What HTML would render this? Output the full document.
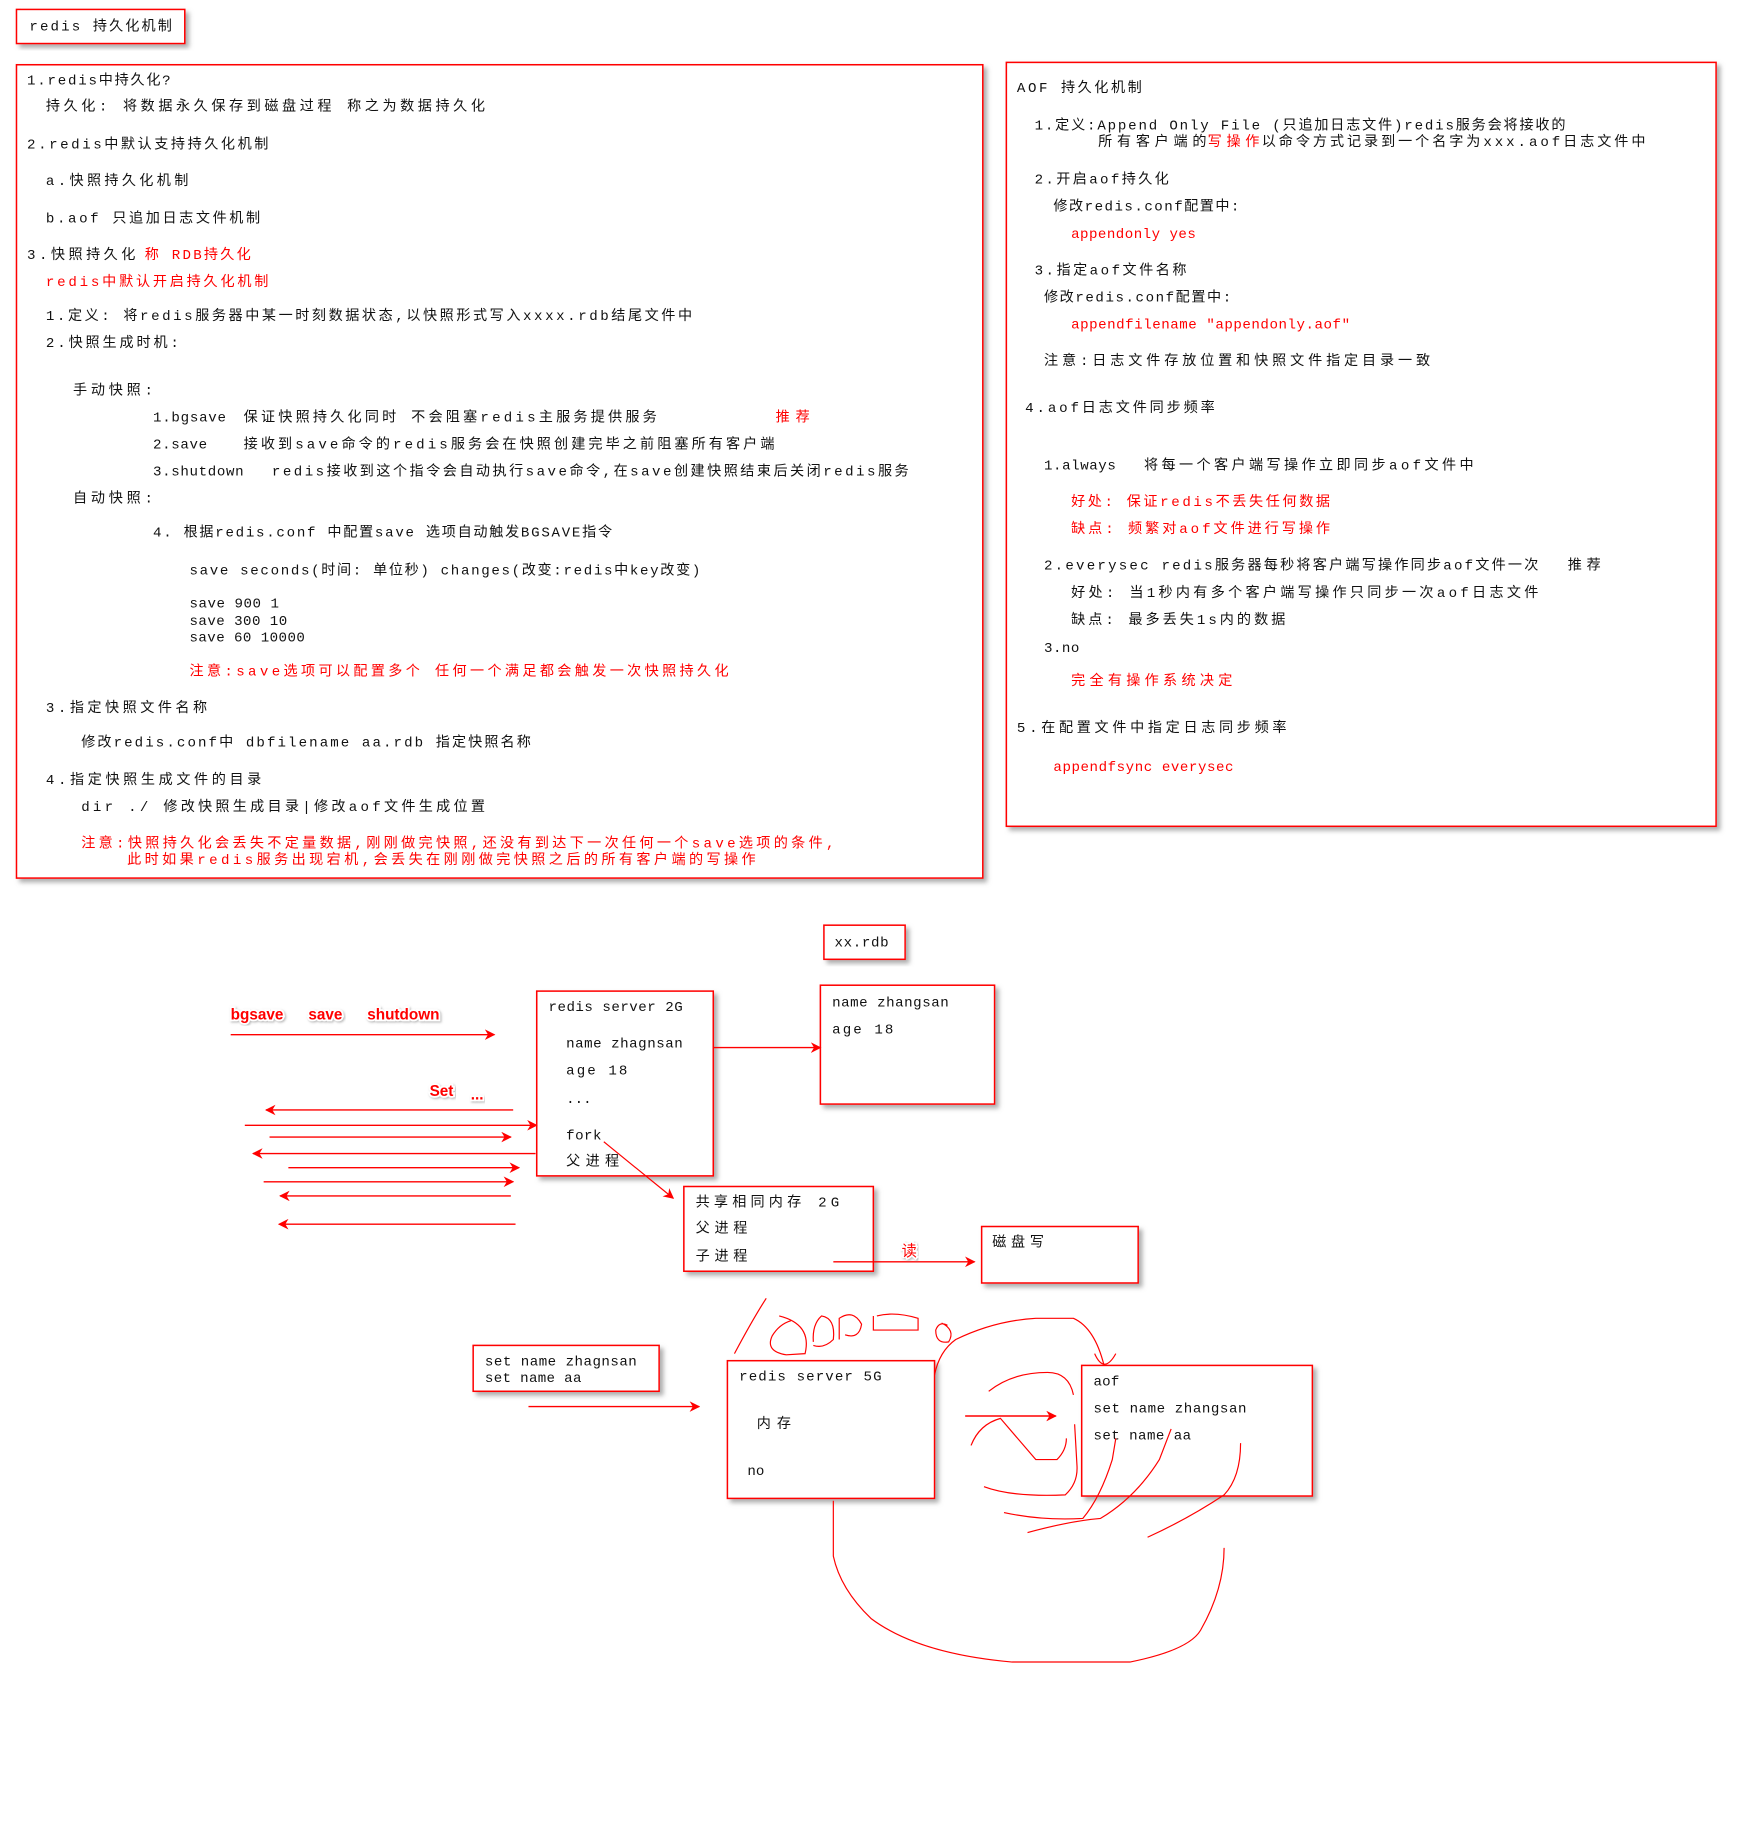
<!DOCTYPE html>
<html><head><meta charset="utf-8"><style>
html,body{margin:0;padding:0;background:#fff;}
svg{display:block;}
text{font-family:"Liberation Mono","Noto Sans CJK SC",monospace;font-size:12px;fill:#111;}
.r{fill:#f00;}
.b{fill:none;stroke:#f00;stroke-width:1.3;}
.box{fill:#fff;stroke:#f00;stroke-width:1.3;filter:url(#sh);}
.ln{stroke:#f00;stroke-width:1.2;fill:none;}
.sc{stroke:#f00;stroke-width:1;fill:none;}
.lab{font-family:"Liberation Sans","Noto Sans CJK SC",sans-serif;font-weight:bold;font-size:13px;fill:#f00;stroke:#fff;stroke-width:3;paint-order:stroke;filter:url(#gl);}
</style></head><body>
<svg width="1762" height="1844" viewBox="0 0 1497 1566.6" preserveAspectRatio="none" xmlns="http://www.w3.org/2000/svg">
<defs>
<filter id="sh" x="-10%" y="-10%" width="130%" height="130%"><feDropShadow dx="3" dy="3" stdDeviation="2" flood-color="#777" flood-opacity="0.6"/></filter>
<filter id="gl"><feDropShadow dx="1" dy="1" stdDeviation="1" flood-color="#888" flood-opacity="0.6"/></filter>
<marker id="a" viewBox="0 0 10 10" refX="9" refY="5" markerWidth="9" markerHeight="9" orient="auto-start-reverse" markerUnits="userSpaceOnUse"><path d="M0,0 L10,5 L0,10 L3,5 z" fill="#f00"/></marker>
</defs>

<!-- title -->
<rect class="box" x="14" y="8" width="143" height="29"/>
<text x="25" y="26" textLength="121" lengthAdjust="spacing">redis 持久化机制</text>

<!-- main box -->
<rect class="box" x="14" y="55" width="821" height="691"/>
<text x="23" y="72" textLength="122" lengthAdjust="spacing">1.redis中持久化?</text>
<text x="39" y="94" textLength="373" lengthAdjust="spacing">持久化: 将数据永久保存到磁盘过程 称之为数据持久化</text>
<text x="23" y="126" textLength="205" lengthAdjust="spacing">2.redis中默认支持持久化机制</text>
<text x="39" y="157" textLength="121" lengthAdjust="spacing">a.快照持久化机制</text>
<text x="39" y="189" textLength="182" lengthAdjust="spacing">b.aof 只追加日志文件机制</text>
<text x="23" y="220" textLength="92" lengthAdjust="spacing">3.快照持久化</text>
<text class="r" x="123" y="220" textLength="90" lengthAdjust="spacing">称 RDB持久化</text>
<text class="r" x="39" y="243" textLength="189" lengthAdjust="spacing">redis中默认开启持久化机制</text>
<text x="39" y="272" textLength="549" lengthAdjust="spacing">1.定义: 将redis服务器中某一时刻数据状态,以快照形式写入xxxx.rdb结尾文件中</text>
<text x="39" y="295" textLength="113" lengthAdjust="spacing">2.快照生成时机:</text>
<text x="62" y="335" textLength="68" lengthAdjust="spacing">手动快照:</text>
<text x="130" y="358" textLength="62" lengthAdjust="spacing">1.bgsave</text>
<text x="207" y="358" textLength="351" lengthAdjust="spacing">保证快照持久化同时 不会阻塞redis主服务提供服务</text>
<text class="r" x="659" y="358" textLength="29" lengthAdjust="spacing">推荐</text>
<text x="130" y="381" textLength="46" lengthAdjust="spacing">2.save</text>
<text x="207" y="381" textLength="451" lengthAdjust="spacing">接收到save命令的redis服务会在快照创建完毕之前阻塞所有客户端</text>
<text x="130" y="404" textLength="77" lengthAdjust="spacing">3.shutdown</text>
<text x="231" y="404" textLength="541" lengthAdjust="spacing">redis接收到这个指令会自动执行save命令,在save创建快照结束后关闭redis服务</text>
<text x="62" y="427" textLength="68" lengthAdjust="spacing">自动快照:</text>
<text x="130" y="456" textLength="390" lengthAdjust="spacing">4. 根据redis.conf 中配置save 选项自动触发BGSAVE指令</text>
<text x="161" y="488" textLength="434" lengthAdjust="spacing">save  seconds(时间: 单位秒)  changes(改变:redis中key改变)</text>
<text x="161" y="516" textLength="76" lengthAdjust="spacing">save 900 1</text>
<text x="161" y="531" textLength="83" lengthAdjust="spacing">save 300 10</text>
<text x="161" y="545" textLength="98" lengthAdjust="spacing">save 60 10000</text>
<text class="r" x="161" y="574" textLength="458" lengthAdjust="spacing">注意:save选项可以配置多个 任何一个满足都会触发一次快照持久化</text>
<text x="39" y="605" textLength="137" lengthAdjust="spacing">3.指定快照文件名称</text>
<text x="69" y="634" textLength="382" lengthAdjust="spacing">修改redis.conf中  dbfilename aa.rdb   指定快照名称</text>
<text x="39" y="666" textLength="183" lengthAdjust="spacing">4.指定快照生成文件的目录</text>
<text x="69" y="689" textLength="343" lengthAdjust="spacing">dir ./   修改快照生成目录|修改aof文件生成位置</text>
<text class="r" x="69" y="720" textLength="640" lengthAdjust="spacing">注意:快照持久化会丢失不定量数据,刚刚做完快照,还没有到达下一次任何一个save选项的条件,</text>
<text class="r" x="108" y="734" textLength="534" lengthAdjust="spacing">此时如果redis服务出现宕机,会丢失在刚刚做完快照之后的所有客户端的写操作</text>

<!-- right box -->
<rect class="box" x="855" y="53" width="603" height="649"/>
<text x="864" y="78" textLength="106" lengthAdjust="spacing">AOF 持久化机制</text>
<text x="879" y="110" textLength="451" lengthAdjust="spacing">1.定义:Append Only File (只追加日志文件)redis服务会将接收的</text>
<text x="933" y="124" textLength="92" lengthAdjust="spacing">所有客户端的</text>
<text class="r" x="1026" y="124" textLength="44" lengthAdjust="spacing">写操作</text>
<text x="1072" y="124" textLength="326" lengthAdjust="spacing">以命令方式记录到一个名字为xxx.aof日志文件中</text>
<text x="879" y="156" textLength="114" lengthAdjust="spacing">2.开启aof持久化</text>
<text x="895" y="179" textLength="158" lengthAdjust="spacing">修改redis.conf配置中:</text>
<text class="r" x="910" y="202" textLength="106" lengthAdjust="spacing">appendonly yes</text>
<text x="879" y="233" textLength="129" lengthAdjust="spacing">3.指定aof文件名称</text>
<text x="887" y="256" textLength="159" lengthAdjust="spacing">修改redis.conf配置中:</text>
<text class="r" x="910" y="279" textLength="237" lengthAdjust="spacing">appendfilename "appendonly.aof"</text>
<text x="887" y="310" textLength="328" lengthAdjust="spacing">注意:日志文件存放位置和快照文件指定目录一致</text>
<text x="871" y="350" textLength="161" lengthAdjust="spacing">4.aof日志文件同步频率</text>
<text x="887" y="399" textLength="61" lengthAdjust="spacing">1.always</text>
<text x="972" y="399" textLength="280" lengthAdjust="spacing">将每一个客户端写操作立即同步aof文件中</text>
<text class="r" x="910" y="430" textLength="220" lengthAdjust="spacing">好处: 保证redis不丢失任何数据</text>
<text class="r" x="910" y="453" textLength="220" lengthAdjust="spacing">缺点: 频繁对aof文件进行写操作</text>
<text x="887" y="484" textLength="420" lengthAdjust="spacing">2.everysec redis服务器每秒将客户端写操作同步aof文件一次</text>
<text x="1332" y="484" textLength="28" lengthAdjust="spacing">推荐</text>
<text x="910" y="507" textLength="397" lengthAdjust="spacing">好处: 当1秒内有多个客户端写操作只同步一次aof日志文件</text>
<text x="910" y="530" textLength="182" lengthAdjust="spacing">缺点: 最多丢失1s内的数据</text>
<text x="887" y="554" textLength="30" lengthAdjust="spacing">3.no</text>
<text class="r" x="910" y="582" textLength="137" lengthAdjust="spacing">完全有操作系统决定</text>
<text x="864" y="622" textLength="229" lengthAdjust="spacing">5.在配置文件中指定日志同步频率</text>
<text class="r" x="895" y="655" textLength="153" lengthAdjust="spacing">appendfsync everysec</text>

<!-- RDB diagram -->
<rect class="box" x="700" y="786" width="69" height="29"/>
<text x="709" y="804" textLength="46" lengthAdjust="spacing">xx.rdb</text>
<rect class="box" x="697" y="837" width="148" height="101"/>
<text x="707" y="855" textLength="99" lengthAdjust="spacing">name zhangsan</text>
<text x="707" y="878" textLength="52" lengthAdjust="spacing">age  18</text>
<rect class="box" x="456" y="842" width="150" height="157"/>
<text x="466" y="859" textLength="114" lengthAdjust="spacing">redis server 2G</text>
<text x="481" y="890" textLength="99" lengthAdjust="spacing">name zhagnsan</text>
<text x="481" y="913" textLength="52" lengthAdjust="spacing">age  18</text>
<text x="481" y="937">...</text>
<text x="481" y="968" textLength="30" lengthAdjust="spacing">fork</text>
<text x="481" y="990" textLength="45" lengthAdjust="spacing">父进程</text>
<line class="ln" x1="606" y1="890" x2="697" y2="890" marker-end="url(#a)"/>
<line class="sc" x1="513" y1="970" x2="572" y2="1018" marker-end="url(#a)"/>

<text class="lab" x="196" y="866">bgsave</text>
<text class="lab" x="262" y="866">save</text>
<text class="lab" x="312" y="866">shutdown</text>
<line class="ln" x1="196" y1="879" x2="420" y2="879" marker-end="url(#a)"/>
<text class="lab" x="365" y="931">Set</text>
<text class="lab" x="400" y="934">...</text>
<line class="ln" x1="436" y1="943" x2="226" y2="943" marker-end="url(#a)"/>
<line class="ln" x1="208" y1="956" x2="456" y2="956" marker-end="url(#a)"/>
<line class="ln" x1="229" y1="966" x2="434" y2="966" marker-end="url(#a)"/>
<line class="ln" x1="455" y1="980" x2="215" y2="980" marker-end="url(#a)"/>
<line class="ln" x1="245" y1="992" x2="441" y2="992" marker-end="url(#a)"/>
<line class="ln" x1="224" y1="1004" x2="436" y2="1004" marker-end="url(#a)"/>
<line class="ln" x1="434" y1="1016" x2="238" y2="1016" marker-end="url(#a)"/>
<line class="ln" x1="438" y1="1040" x2="237" y2="1040" marker-end="url(#a)"/>

<rect class="box" x="581" y="1008" width="161" height="72"/>
<text x="591" y="1025" textLength="122" lengthAdjust="spacing">共享相同内存   2G</text>
<text x="591" y="1047" textLength="44" lengthAdjust="spacing">父进程</text>
<text x="591" y="1071" textLength="44" lengthAdjust="spacing">子进程</text>
<line class="ln" x1="708" y1="1072" x2="828" y2="1072" marker-end="url(#a)"/>
<text class="lab" x="766" y="1067" style="font-weight:normal">读</text>
<rect class="box" x="834" y="1042" width="133" height="48"/>
<text x="843" y="1059" textLength="44" lengthAdjust="spacing">磁盘写</text>

<!-- AOF diagram -->
<rect class="box" x="402" y="1143" width="158" height="39"/>
<text x="412" y="1160" textLength="129" lengthAdjust="spacing">set name zhagnsan</text>
<text x="412" y="1174" textLength="82" lengthAdjust="spacing">set name aa</text>
<line class="ln" x1="449" y1="1195" x2="594" y2="1195" marker-end="url(#a)"/>
<rect class="box" x="618" y="1156" width="176" height="117"/>
<text x="628" y="1173" textLength="121" lengthAdjust="spacing">redis server   5G</text>
<text x="643" y="1213" textLength="29" lengthAdjust="spacing">内存</text>
<text x="635" y="1253">no</text>
<line class="ln" x1="820" y1="1203" x2="897" y2="1203" marker-end="url(#a)"/>
<rect class="box" x="919" y="1160" width="196" height="111"/>
<text x="929" y="1177" textLength="22" lengthAdjust="spacing">aof</text>
<text x="929" y="1200" textLength="130" lengthAdjust="spacing">set name zhangsan</text>
<text x="929" y="1223" textLength="83" lengthAdjust="spacing">set name aa</text>

<!-- scribbles -->
<path class="sc" d="M708,1275 L708,1322 Q714,1350 740,1375 Q780,1405 860,1412 L960,1412 Q1010,1402 1020,1385 Q1040,1350 1040,1315"/>
<path class="sc" d="M794,1168 Q798,1148 812,1138 Q845,1122 880,1120 L912,1120 Q930,1128 938,1160 M930,1150 Q938,1168 948,1150"/>
<path class="sc" d="M624,1150 Q640,1120 651,1103"/>
<path class="sc" d="M662,1118 Q690,1125 684,1150 L668,1151 Q650,1148 656,1135 Q662,1125 672,1122"/>
<path class="sc" d="M691,1140 Q690,1125 698,1118 Q710,1120 708,1138 Q700,1146 691,1143"/>
<path class="sc" d="M713,1138 L713,1120 Q725,1112 732,1125 Q730,1138 718,1134"/>
<path class="sc" d="M742,1118 L742,1130 L780,1130 L780,1120 Q760,1114 745,1118"/>
<path class="sc" d="M800,1124 Q812,1130 806,1140 Q795,1142 795,1130 Q798,1122 805,1126"/>
<path class="sc" d="M840,1182 Q860,1166 890,1166 Q908,1166 912,1185"/>
<path class="sc" d="M825,1228 Q832,1210 850,1205 L880,1240 L898,1240 Q906,1232 906,1222"/>
<path class="sc" d="M836,1263 Q860,1272 905,1270 Q916,1260 915,1245 L913,1210"/>
<path class="sc" d="M853,1285 Q885,1292 920,1290 Q935,1272 945,1240 L948,1222"/>
<path class="sc" d="M873,1302 Q910,1292 935,1290 Q965,1272 985,1240 L995,1214"/>
<path class="sc" d="M975,1306 Q1010,1290 1040,1270 Q1054,1255 1054,1226"/>
</svg>
</body></html>
